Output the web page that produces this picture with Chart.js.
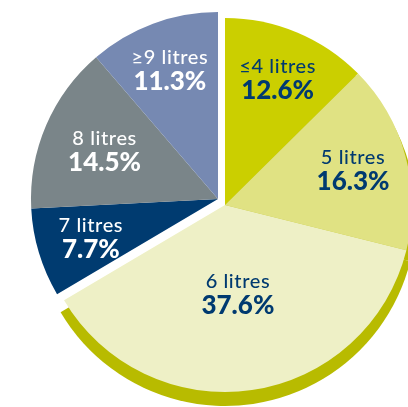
<!DOCTYPE html>
<html>
<head>
<meta charset="utf-8">
<script src="https://cdn.jsdelivr.net/npm/chart.js@4/dist/chart.umd.min.js"></script>
<style>
  html, body { margin: 0; padding: 0; background: #fff; overflow: hidden; }
  #wrap { position: absolute; left: 0; top: 0; width: 460px; height: 460px; }
</style>
</head>
<body>
<div id="wrap"><canvas id="pie" width="460" height="460"></canvas></div>
<script>
const categories = ['≤4 litres', '5 litres', '6 litres', '7 litres', '8 litres', '≥9 litres'];
const shares = [12.6, 16.3, 37.6, 7.7, 14.5, 11.3];

const sliceColors = ['#cbcf00', '#e0e283', '#eef0c6', '#003b70', '#7a8589', '#7689b2'];
const textColors = ['#003a70', '#003a70', '#003a70', '#ffffff', '#ffffff', '#ffffff'];
const labelRadius = [0.73, 0.71, 0.48, 0.71, 0.66, 0.74];

// the 7 / 8 / 9+ slices are pulled out together as one block
const groupShift = { dx: -7, dy: -6, from: 3 };
const rim = { color: '#b8bb00', dy: 10, grow: 4 };

const groupPlugin = {
  id: 'groupShift',
  afterDatasetsUpdate(chart) {
    chart.getDatasetMeta(0).data.forEach((arc, i) => {
      if (i >= groupShift.from) {
        arc.x += groupShift.dx;
        arc.y += groupShift.dy;
      }
    });
  }
};

const rimPlugin = {
  id: 'rim',
  beforeDatasetsDraw(chart) {
    const ctx = chart.ctx;
    ctx.save();
    ctx.fillStyle = rim.color;
    chart.getDatasetMeta(0).data.forEach((arc, i) => {
      if (i >= groupShift.from) return;
      const cx = arc.x, cy = arc.y + rim.dy;
      ctx.beginPath();
      ctx.moveTo(cx, cy);
      ctx.arc(cx, cy, arc.outerRadius + rim.grow, arc.startAngle, arc.endAngle);
      ctx.closePath();
      ctx.fill();
    });
    ctx.restore();
  }
};

const labelPlugin = {
  id: 'sliceLabels',
  afterDatasetsDraw(chart) {
    const ctx = chart.ctx;
    ctx.save();
    ctx.textAlign = 'center';
    ctx.textBaseline = 'middle';
    chart.getDatasetMeta(0).data.forEach((arc, i) => {
      const mid = (arc.startAngle + arc.endAngle) / 2;
      const r = arc.outerRadius * labelRadius[i];
      const x = arc.x + Math.cos(mid) * r;
      const y = arc.y + Math.sin(mid) * r;
      ctx.fillStyle = textColors[i];
      ctx.letterSpacing = '0.6px';
      ctx.font = '500 20px Lato, "Open Sans", sans-serif';
      ctx.fillText(categories[i], x, y - 12);
      ctx.letterSpacing = '0px';
      ctx.font = '900 26px Lato, "Open Sans", sans-serif';
      ctx.fillText(shares[i].toFixed(1) + '%', x, y + 12);
    });
    ctx.restore();
  }
};

new Chart(document.getElementById('pie'), {
  type: 'pie',
  data: {
    labels: categories,
    datasets: [{
      data: shares,
      backgroundColor: sliceColors,
      borderWidth: 0
    }]
  },
  options: {
    responsive: false,
    animation: false,
    layout: { padding: { left: 38, top: 18, right: 48, bottom: 68 } },
    plugins: {
      legend: { display: false },
      tooltip: { enabled: false }
    }
  },
  plugins: [groupPlugin, rimPlugin, labelPlugin]
});
</script>
</body>
</html>
